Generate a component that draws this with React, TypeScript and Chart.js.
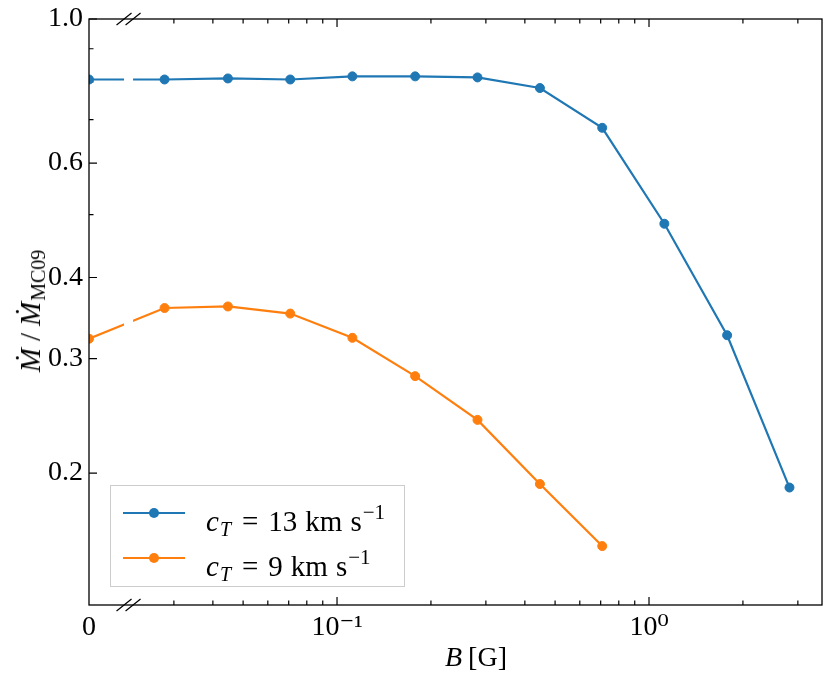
import { useEffect, useRef } from 'react'
import { Chart, registerables } from 'chart.js'

Chart.register(...registerables)

// magnetic field B [G]; the first point is B = 0 (drawn on the broken left part)
const bField = [0, 0.028, 0.0447, 0.0708, 0.112, 0.178, 0.282, 0.447, 0.708, 1.12, 1.78, 2.82]
const mdotFast = [0.807, 0.807, 0.81, 0.807, 0.816, 0.816, 0.813, 0.783, 0.68, 0.484, 0.326, 0.19]
const mdotSlow = [0.322, 0.359, 0.361, 0.352, 0.323, 0.282, 0.2415, 0.1924, 0.1544]

const yMajor = [0.2, 0.3, 0.4, 0.6, 1.0]
const yMajorLabels = ['0.2', '0.3', '0.4', '0.6', '1.0']
const yMinor = [0.5, 0.7, 0.8, 0.9]
const xMajorLabels = ['0', '10⁻¹', '10⁰']

// x axis works in log10(B); B = 0 sits at the left edge
const U_MIN = -1.795
const U_MAX = 0.5545
const BREAK_L = -1.6827
const BREAK_R = -1.6538
const Y_MIN = 0.1253
const Y_MAX = 1.0

const BLUE = '#1f77b4'
const ORANGE = '#ff7f0e'
const FONT = "'Liberation Serif', 'DejaVu Serif', serif"

const toU = (b: number) => (b === 0 ? U_MIN : Math.log10(b))

const xMajor = [U_MIN, -1, 0]
const xMinor: number[] = []
;[3, 4, 5, 6, 7, 8, 9].forEach(k => xMinor.push(Math.log10(k * 0.01)))
;[2, 3, 4, 5, 6, 7, 8, 9].forEach(k => xMinor.push(Math.log10(k * 0.1)))
;[2, 3].forEach(k => xMinor.push(Math.log10(k)))

const near = (a: number, b: number) => Math.abs(a - b) < 1e-6

const axisDecor = {
  id: 'axisDecor',
  beforeDatasetsDraw(chart: any) {
    const { ctx, chartArea: a, scales } = chart
    const x = scales.x, y = scales.y
    ctx.save()
    ctx.strokeStyle = '#000'
    ctx.lineWidth = 1.2
    ctx.beginPath()
    xMajor.slice(1).forEach(v => {
      const px = x.getPixelForValue(v)
      ctx.moveTo(px, a.bottom); ctx.lineTo(px, a.bottom - 8)
      ctx.moveTo(px, a.top); ctx.lineTo(px, a.top + 8)
    })
    xMinor.forEach(v => {
      const px = x.getPixelForValue(v)
      ctx.moveTo(px, a.bottom); ctx.lineTo(px, a.bottom - 4.5)
      ctx.moveTo(px, a.top); ctx.lineTo(px, a.top + 4.5)
    })
    yMajor.forEach(v => {
      const py = y.getPixelForValue(v)
      ctx.moveTo(a.left, py); ctx.lineTo(a.left + 8, py)
    })
    yMinor.forEach(v => {
      const py = y.getPixelForValue(v)
      ctx.moveTo(a.left, py); ctx.lineTo(a.left + 4.5, py)
    })
    ctx.stroke()
    ctx.restore()
    // cut the lines where the axis is broken
    const gl = x.getPixelForValue(BREAK_L)
    const gr = x.getPixelForValue(BREAK_R)
    ctx.save()
    ctx.beginPath()
    ctx.rect(0, 0, gl, chart.height)
    ctx.rect(gr, 0, chart.width - gr, chart.height)
    ctx.clip()
  },
  afterDatasetsDraw(chart: any) {
    const { ctx, chartArea: a, scales } = chart
    ctx.restore()
    ctx.save()
    ctx.strokeStyle = '#000'
    ctx.lineWidth = 1.3
    ctx.strokeRect(a.left, a.top, a.right - a.left, a.bottom - a.top)
    ctx.lineWidth = 1.2
    ctx.beginPath()
    ;[BREAK_L, BREAK_R].forEach(v => {
      const px = scales.x.getPixelForValue(v)
      ;[a.top, a.bottom].forEach(py => {
        ctx.moveTo(px - 7.5, py + 6)
        ctx.lineTo(px + 7.5, py - 6)
      })
    })
    ctx.stroke()
    ctx.restore()
  },
}

function MdotChart() {
  const canvasRef = useRef<HTMLCanvasElement | null>(null)

  useEffect(() => {
    if (!canvasRef.current) return
    const ctx = canvasRef.current.getContext('2d')
    if (!ctx) return

    const tickFont = { family: FONT, size: 28 }
    const line = (color: string) => ({
      borderColor: color,
      backgroundColor: color,
      borderWidth: 2.2,
      pointRadius: 4.5,
      pointBorderWidth: 1,
      tension: 0,
      clip: 0,
    })
    const chart = new Chart(ctx, {
      type: 'line',
      data: {
        datasets: [
          {
            label: 'cT = 13 km s-1',
            data: mdotFast.map((v, i) => ({ x: toU(bField[i]), y: v })),
            ...line(BLUE),
          },
          {
            label: 'cT = 9 km s-1',
            data: mdotSlow.map((v, i) => ({ x: toU(bField[i]), y: v })),
            ...line(ORANGE),
          },
        ],
      },
      options: {
        responsive: false,
        animation: false,
        layout: { padding: { top: 19, right: 9, left: 0, bottom: 0 } },
        plugins: { legend: { display: false }, tooltip: { enabled: false } },
        scales: {
          x: {
            type: 'linear',
            min: U_MIN,
            max: U_MAX,
            afterBuildTicks: (s: any) => {
              s.ticks = [...xMajor, ...xMinor].map(v => ({ value: v }))
            },
            afterFit: (s: any) => {
              s.height = 76
              s.paddingLeft = 0
              s.paddingRight = 0
            },
            ticks: {
              autoSkip: false,
              maxRotation: 0,
              padding: 6,
              color: '#000',
              font: tickFont,
              callback: (v: any) => {
                const i = xMajor.findIndex(m => near(m, Number(v)))
                return i >= 0 ? xMajorLabels[i] : ''
              },
            },
            grid: { display: false, drawTicks: false },
            border: { display: false },
          },
          y: {
            type: 'logarithmic',
            min: Y_MIN,
            max: Y_MAX,
            afterBuildTicks: (s: any) => {
              s.ticks = [...yMajor, ...yMinor].map(v => ({ value: v }))
            },
            afterFit: (s: any) => {
              s.width = 89
              s.paddingTop = 0
              s.paddingBottom = 0
            },
            ticks: {
              autoSkip: false,
              padding: 6,
              color: '#000',
              font: tickFont,
              callback: (v: any) => {
                const i = yMajor.findIndex(m => near(m, Number(v)))
                return i >= 0 ? yMajorLabels[i] : ''
              },
            },
            grid: { display: false, drawTicks: false },
            border: { display: false },
          },
        },
      },
      plugins: [axisDecor],
    })

    return () => chart.destroy()
  }, [])

  return <canvas ref={canvasRef} width={831} height={681} style={{ position: 'absolute', left: 0, top: 0 }} />
}

const sub = { fontSize: 20, verticalAlign: -5, marginLeft: 1 }
const sup = { fontSize: 21, verticalAlign: 12, marginLeft: 1 }

function LegendRow({ color, value }: { color: string; value: string }) {
  return (
    <div style={{ position: 'relative', height: 45 }}>
      <div style={{ position: 'absolute', left: 12, width: 62, top: 21.5, height: 2, background: color }} />
      <div style={{ position: 'absolute', left: 38, top: 17.5, width: 10, height: 10, borderRadius: '50%', background: color }} />
      <div style={{ position: 'absolute', left: 95, top: 0, lineHeight: '45px', whiteSpace: 'nowrap', fontSize: 29 }}>
        <i>c</i><sub style={sub}><i>T</i></sub>
        <span style={{ margin: '0 10px 0 11px' }}>=</span>
        {value}
        <span style={{ marginLeft: 8 }}>km</span>
        <span style={{ marginLeft: 8 }}>s</span>
        <sup style={sup}>−1</sup>
      </div>
    </div>
  )
}

export default function App() {
  useEffect(() => {
    document.body.style.margin = '0'
  }, [])

  return (
    <div style={{ position: 'relative', width: 831, height: 681, fontFamily: FONT, fontSize: 28, color: '#000' }}>
      <MdotChart />
      <div
        style={{
          position: 'absolute', left: 32, top: 311, whiteSpace: 'nowrap', fontSize: 29,
          transform: 'translate(-50%, -50%) rotate(-90deg)', lineHeight: 1,
        }}
      >
        <i>Ṁ</i>
        <span style={{ margin: '0 7px' }}>/</span>
        <i>Ṁ</i><sub style={{ fontSize: 20, verticalAlign: -5, marginLeft: 1 }}>MC09</sub>
      </div>
      <div
        style={{
          position: 'absolute', left: 476, top: 657, whiteSpace: 'nowrap',
          transform: 'translate(-50%, -50%)', lineHeight: 1,
        }}
      >
        <i>B</i>
        <span style={{ marginLeft: 6 }}>[G]</span>
      </div>
      <div
        style={{
          position: 'absolute', left: 110, top: 485, width: 293, height: 96,
          border: '1px solid #cccccc', background: 'rgba(255,255,255,0.8)', paddingTop: 4, boxSizing: 'content-box',
        }}
      >
        <LegendRow color={BLUE} value="13" />
        <LegendRow color={ORANGE} value="9" />
      </div>
    </div>
  )
}
